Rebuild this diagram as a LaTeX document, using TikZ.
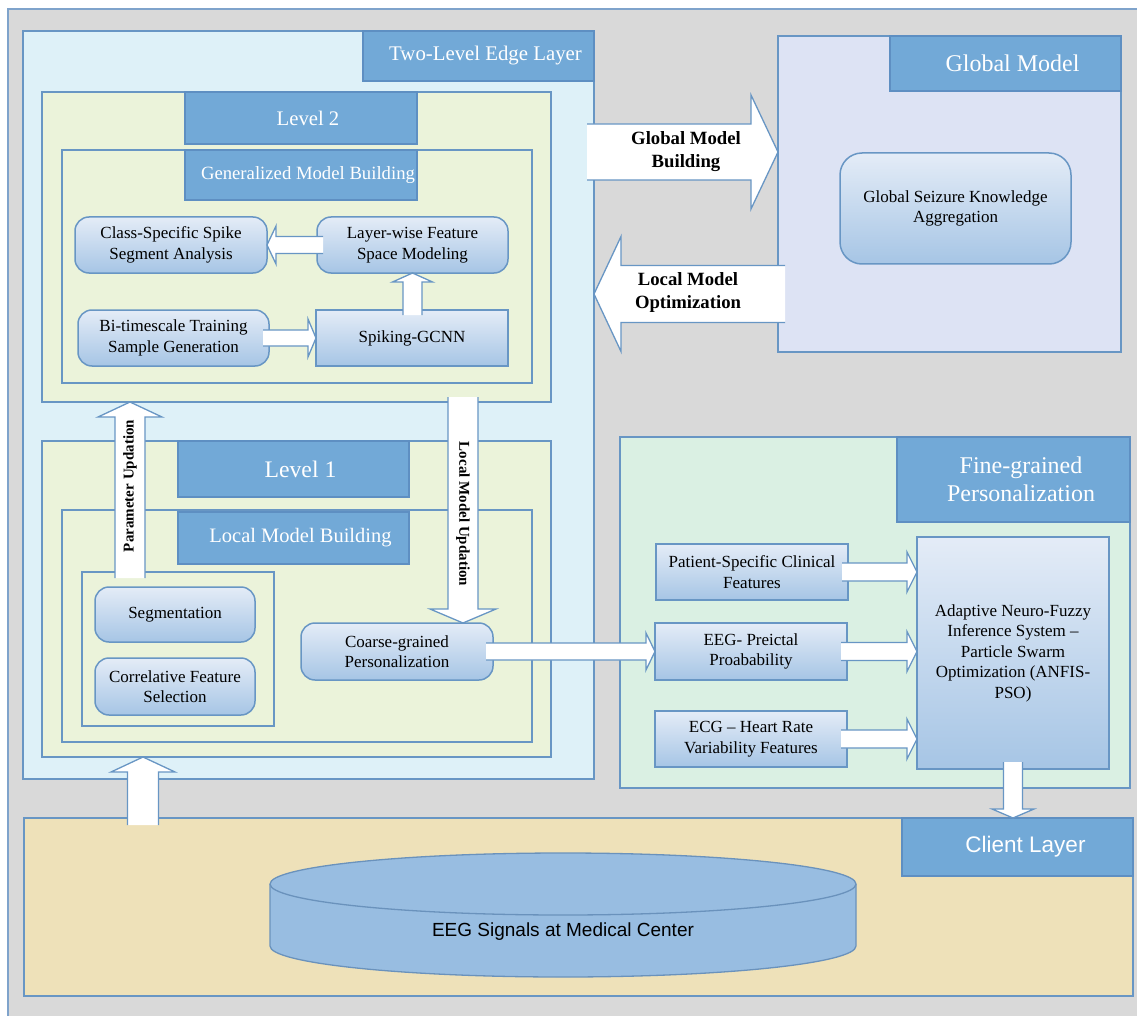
\documentclass[tikz,border=0pt]{standalone}
\usepackage{fontspec}
\setmainfont{Liberation Serif}
\newfontfamily\plainsans{Liberation Sans}
\usetikzlibrary{calc}

\definecolor{bgGray}{HTML}{D9D9D9}
\definecolor{frameLine}{HTML}{7FA3CB}
\definecolor{edgeFill}{HTML}{DEF1F8}
\definecolor{levelFill}{HTML}{EBF3DA}
\definecolor{boxLine}{HTML}{6896C4}
\definecolor{hdrFill}{HTML}{72A9D7}
\definecolor{hdrLine}{HTML}{5E8FC2}
\definecolor{procTop}{HTML}{E4ECF7}
\definecolor{procBot}{HTML}{A6C5E5}
\definecolor{globalFill}{HTML}{DDE3F4}
\definecolor{fineFill}{HTML}{DAF0E3}
\definecolor{clientFill}{HTML}{EEE1B9}
\definecolor{cylFill}{HTML}{98BDE1}
\definecolor{cylLine}{HTML}{6A92BC}

% box node from its corner coordinates: name, style, x1, y1, x2, y2, text
\newcommand\placebox[7]{%
  \node[#2, anchor=north west, inner sep=0pt, outer sep=0pt,
        minimum width={(#5-#3)*1pt}, minimum height={(#6-#4)*1pt}] (#1) at (#3,#4) {#7};}

% horizontal block arrow: tail, tip, shaft half width, head half width, head length
\newcommand\harrow[5]{%
  \path[arrowbody] let \p1=(#1), \p2=(#2), \n1={(\x2-\x1)/abs(\x2-\x1)} in
    (\x1,{\y2+#3}) -- ({\x2-\n1*#5},{\y2+#3}) -- ({\x2-\n1*#5},{\y2+#4}) -- (\x2,\y2)
    -- ({\x2-\n1*#5},{\y2-#4}) -- ({\x2-\n1*#5},{\y2-#3}) -- (\x1,{\y2-#3});}

% vertical block arrow: tail, tip, shaft half width, head half width, head length
\newcommand\varrow[5]{%
  \path[arrowbody] let \p1=(#1), \p2=(#2), \n1={(\y2-\y1)/abs(\y2-\y1)} in
    ({\x2+#3},\y1) -- ({\x2+#3},{\y2-\n1*#5}) -- ({\x2+#4},{\y2-\n1*#5}) -- (\x2,\y2)
    -- ({\x2-#4},{\y2-\n1*#5}) -- ({\x2-#3},{\y2-\n1*#5}) -- ({\x2-#3},\y1);}

\begin{document}
\begin{tikzpicture}[x=1pt,y=-1pt,
  panel/.style={draw=boxLine, line width=1.6pt},
  header/.style={draw=hdrLine, fill=hdrFill, line width=1.8pt, text=white, align=center},
  proc/.style={draw=boxLine, line width=1.5pt, top color=procTop, bottom color=procBot,
               rounded corners=14pt, align=center, font=\fontsize{17}{20.5}\selectfont},
  procsq/.style={proc, rounded corners=0pt},
  arrowbody/.style={fill=white, draw=boxLine, line width=1.3pt, line join=miter},
  arrowlabel/.style={font=\bfseries\fontsize{18.7}{23}\selectfont, align=center},
  sidelabel/.style={font=\bfseries\fontsize{15}{18}\selectfont},
]
\useasboundingbox (0,0) rectangle (1137,1016);

% background frame
\fill[bgGray] (8,9) rectangle (1137,1016);
\draw[frameLine, line width=1.5pt] (8,1016) -- (8,9) -- (1137,9);

% ---------- two-level edge layer ----------
\placebox{edge}{panel, fill=edgeFill}{23}{31}{594}{779}{}
\placebox{edgeHdr}{header, font=\fontsize{20.8}{24}\selectfont}{363}{31}{594}{81}{\hspace*{14pt}Two-Level Edge Layer}

% level 2
\placebox{level2}{panel, fill=levelFill}{42}{92}{551}{402}{}
\placebox{level2Hdr}{header, font=\fontsize{20.7}{24}\selectfont}{185}{92}{417}{144}{\hspace*{14pt}Level 2}
\placebox{gmb}{panel, fill=levelFill}{62}{150}{532}{383}{}
\placebox{gmbHdr}{header, font=\fontsize{18.7}{22}\selectfont}{185}{150}{417}{200}{\hspace*{14pt}Generalized Model Building}

\placebox{cssa}{proc}{75}{217}{267}{273}{Class-Specific Spike\\Segment Analysis}
\placebox{lfsm}{proc}{317}{217}{508}{273}{Layer-wise Feature\\Space Modeling}
\placebox{btsg}{proc}{78}{310}{269}{366}{Bi-timescale Training\\Sample Generation}
\placebox{spk}{procsq}{316}{310}{508}{366}{Spiking-GCNN}

% level 1
\placebox{level1}{panel, fill=levelFill}{42}{441}{551}{757}{}
\placebox{level1Hdr}{header, font=\fontsize{23.7}{27}\selectfont}{178}{441}{409}{497}{\hspace*{14pt}Level 1}
\placebox{lmb}{panel, fill=levelFill}{62}{510}{532}{742}{}
\placebox{lmbHdr}{header, font=\fontsize{20.5}{24}\selectfont}{178}{512}{409}{564}{\hspace*{14pt}Local Model Building}
\placebox{prep}{panel, fill=levelFill}{82}{572}{274}{726}{}

\placebox{seg}{proc}{95}{587}{255}{642}{Segmentation}
\placebox{cfs}{proc}{95}{658}{255}{715}{Correlative Feature\\Selection}
\placebox{coarse}{proc}{301}{623}{493}{680}{Coarse-grained\\Personalization}

% ---------- global model ----------
\placebox{global}{panel, fill=globalFill}{778}{36}{1121}{352}{}
\placebox{globalHdr}{header, font=\fontsize{24}{28}\selectfont}{890}{36}{1121}{91}{\hspace*{14pt}Global Model}
\placebox{gska}{proc, rounded corners=22pt}{840}{153}{1071}{264}{Global Seizure Knowledge\\Aggregation}

% ---------- fine-grained personalization ----------
\placebox{fine}{panel, fill=fineFill}{620}{437}{1130}{788}{}
\placebox{fineHdr}{header, font=\fontsize{24}{28}\selectfont}{897}{437}{1130}{522}{\hspace*{15pt}Fine-grained\\\hspace*{15pt}Personalization}
\placebox{pscf}{procsq}{656}{544}{848}{600}{Patient-Specific Clinical\\Features}
\placebox{eegp}{procsq}{655}{623}{847}{680}{EEG- Preictal\\Proabability}
\placebox{ecg}{procsq}{655}{711}{847}{767}{ECG -- Heart Rate\\Variability Features}
\placebox{anfis}{procsq}{917}{537}{1109}{769}{Adaptive Neuro-Fuzzy\\Inference System --\\Particle Swarm\\Optimization (ANFIS-\\PSO)}

% ---------- client layer ----------
\placebox{client}{panel, fill=clientFill}{24}{818}{1133}{996}{}
\placebox{clientHdr}{header, font=\plainsans\fontsize{22.5}{26}\selectfont}{902}{818}{1133}{876}{\hspace*{16pt}Client Layer}

% database cylinder
\fill[cylFill] (270,884) rectangle (856,946);
\filldraw[fill=cylFill, draw=cylLine, line width=1.3pt]
  (270,884) -- (270,946) arc[start angle=180, end angle=0, x radius=293, y radius=31] -- (856,884);
\filldraw[fill=cylFill, draw=cylLine, line width=1.3pt] (563,884) ellipse[x radius=293, y radius=31];
\node[font=\plainsans\fontsize{19}{22}\selectfont] (db) at (563,932) {EEG Signals at Medical Center};

% ---------- block arrows ----------
\coordinate (puTail) at (130,578);
\coordinate (lmuTail) at (463,397);
\coordinate (upTail) at (143,825);
\coordinate (gmbTail) at (587,152);
\coordinate (lmoTail) at (785,294);

\harrow{$(lfsm.west)+(6,0)$}{cssa.east}{8.5pt}{19pt}{9pt}
\harrow{$(btsg.east)+(-6,0)$}{spk.west}{8pt}{19pt}{8pt}
\varrow{$(spk.north)+(0,5)$}{lfsm.south}{9.5pt}{20pt}{9pt}

\varrow{puTail}{level2.south -| puTail}{15pt}{32pt}{15pt}
\varrow{lmuTail}{coarse.north -| lmuTail}{15pt}{33pt}{14pt}
\varrow{upTail}{level1.south -| upTail}{15.5pt}{32pt}{15pt}

\harrow{$(coarse.east)+(-7,0)$}{eegp.west}{8.5pt}{18.5pt}{9pt}
\harrow{gmbTail}{global.west |- gmbTail}{28pt}{57pt}{27pt}
\harrow{lmoTail}{edge.east |- lmoTail}{28.5pt}{57.5pt}{27pt}

\harrow{$(pscf.east)+(-6,0)$}{anfis.west |- pscf.east}{9pt}{20pt}{10pt}
\harrow{$(eegp.east)+(-6,0)$}{anfis.west |- eegp.east}{9pt}{20pt}{10pt}
\harrow{$(ecg.east)+(-6,0)$}{anfis.west |- ecg.east}{9pt}{20pt}{10pt}
\varrow{$(anfis.south)+(0,-7)$}{client.north -| anfis.south}{9.5pt}{21pt}{9pt}

% arrow labels
\node[arrowlabel] (gmbLabel) at (686,152) {Global Model\\Building};
\node[arrowlabel] (lmoLabel) at (688,293) {Local Model\\Optimization};
\node[sidelabel, rotate=90] (puLabel) at (130,486) {Parameter Updation};
\node[sidelabel, rotate=-90] (lmuLabel) at (463,514) {Local Model Updation};
\end{tikzpicture}
\end{document}
